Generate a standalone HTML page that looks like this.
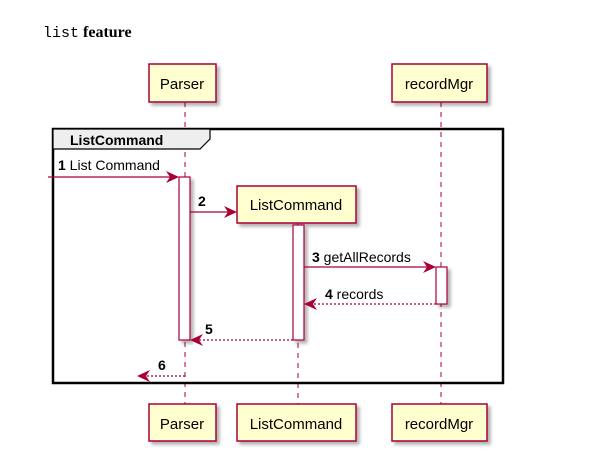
<!DOCTYPE html>
<html><head><meta charset="utf-8"><style>body{margin:0;background:#fff}svg{display:block}</style></head><body>
<svg width="603" height="471" xmlns="http://www.w3.org/2000/svg" font-family="Liberation Sans, sans-serif">
<defs><filter id="sh" x="-10%" y="-10%" width="130%" height="140%"><feDropShadow dx="3" dy="3" stdDeviation="1.5" flood-color="#000" flood-opacity="0.3"/></filter></defs>
<text x="43" y="37" font-size="15"><tspan font-family="Liberation Mono, monospace">list</tspan><tspan font-family="Liberation Serif, serif" font-weight="bold" font-size="16"> feature</tspan></text>
<g stroke="#A80036" stroke-width="1" stroke-dasharray="5,5">
<line x1="185" y1="102" x2="185" y2="404"/>
<line x1="298" y1="223" x2="298" y2="404"/>
<line x1="441" y1="102" x2="441" y2="404"/>
</g>
<rect x="53" y="129" width="450" height="254" fill="none" stroke="#000" stroke-width="2.5"/>
<path d="M53 129 H210 V139 L200 149 H53 Z" fill="#eee" stroke="#000" stroke-width="1.2"/>
<text x="70" y="145" font-size="14" font-weight="bold">ListCommand</text>
<g fill="#FEFECE" stroke="#A80036" stroke-width="1.5" filter="url(#sh)">
<rect x="149" y="64" width="67" height="38"/>
<rect x="392" y="64" width="95" height="38"/>
<rect x="237" y="186" width="119" height="37"/>
<rect x="149" y="404" width="67" height="37"/>
<rect x="237" y="404" width="119" height="37"/>
<rect x="392" y="404" width="95" height="37"/>
</g>
<g fill="#fff" stroke="#A80036" stroke-width="1.2" filter="url(#sh)">
<rect x="179" y="177" width="11" height="163"/>
<rect x="293" y="225" width="11" height="115"/>
<rect x="436" y="267" width="11" height="37"/>
</g>
<g font-size="15" text-anchor="middle">
<text x="182" y="89">Parser</text><text x="439" y="89">recordMgr</text>
<text x="296" y="210">ListCommand</text>
<text x="182" y="429">Parser</text><text x="296" y="429">ListCommand</text><text x="439" y="429">recordMgr</text>
</g>
<g stroke="#A80036" stroke-width="1.2" fill="none">
<line x1="48" y1="177" x2="177" y2="177"/>
<line x1="190" y1="212" x2="235" y2="212"/>
<line x1="304" y1="267" x2="434" y2="267"/>
<line x1="436" y1="304" x2="306" y2="304" stroke-dasharray="2,2"/>
<line x1="293" y1="340" x2="192" y2="340" stroke-dasharray="2,2"/>
<line x1="185" y1="376" x2="139" y2="376" stroke-dasharray="2,2"/>
</g>
<g fill="#A80036">
<path d="M179 177 L166 171 L170 177 L166 183Z"/>
<path d="M237 212 L224 206 L228 212 L224 218Z"/>
<path d="M436 267 L423 261 L427 267 L423 273Z"/>
<path d="M304 304 L317 298 L313 304 L317 310Z"/>
<path d="M190 340 L203 334 L199 340 L203 346Z"/>
<path d="M137 376 L150 370 L146 376 L150 382Z"/>
</g>
<g font-size="14">
<text x="58" y="170"><tspan font-weight="bold">1</tspan> List Command</text>
<text x="198" y="206" font-weight="bold">2</text>
<text x="312" y="262"><tspan font-weight="bold">3</tspan> getAllRecords</text>
<text x="325" y="299"><tspan font-weight="bold">4</tspan> records</text>
<text x="205" y="334" font-weight="bold">5</text>
<text x="158" y="370" font-weight="bold">6</text>
</g>
</svg>
</body></html>
